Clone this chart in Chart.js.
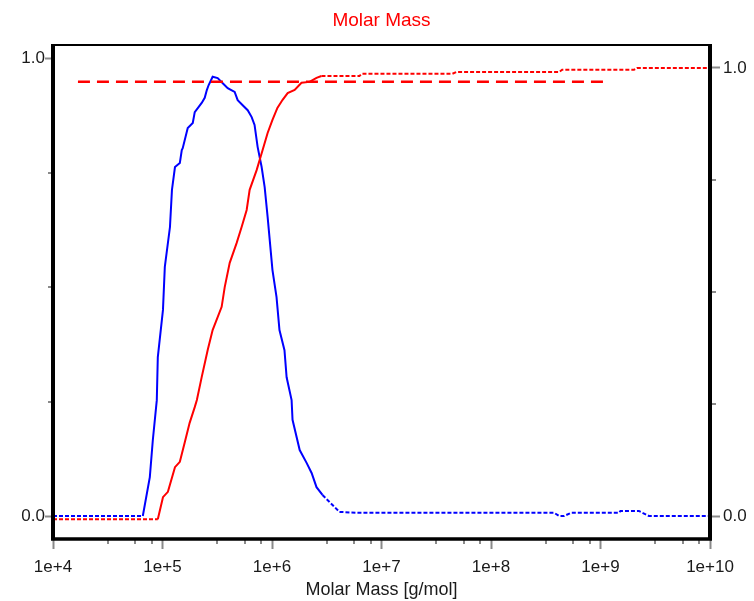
<!DOCTYPE html>
<html>
<head>
<meta charset="utf-8">
<script src="https://cdn.jsdelivr.net/npm/chart.js@4/dist/chart.umd.min.js"></script>
<style>
html,body{margin:0;padding:0;background:#fff;}
#wrap{width:754px;height:601px;position:relative;}
</style>
</head>
<body>
<div id="wrap"><canvas id="c" width="754" height="601"></canvas></div>
<script>
// ---- data ----
const xTickValues = [1e4, 1e5, 1e6, 1e7, 1e8, 1e9, 1e10];
const yTickValues = [0, 1];

// differential distribution (blue, left axis)
const blueMass = [1e4, 6.61e4, 7.66e4, 8.16e4, 8.87e4, 9.06e4, 1.01e5, 1.05e5, 1.17e5, 1.22e5, 1.30e5, 1.44e5, 1.50e5, 1.53e5, 1.70e5, 1.89e5, 1.97e5, 2.28e5, 2.43e5, 2.54e5, 2.64e5, 2.87e5, 3.19e5, 3.55e5, 3.94e5, 4.56e5, 4.86e5, 5.40e5, 6.00e5, 6.52e5, 6.93e5, 7.39e5, 8.04e5, 8.57e5, 9.12e5, 1.01e6, 1.10e6, 1.17e6, 1.30e6, 1.36e6, 1.51e6, 1.54e6, 1.79e6, 2.07e6, 2.30e6, 2.55e6, 2.89e6, 4.13e6, 5.90e6, 3.77e8, 4.19e8, 4.65e8, 5.38e8, 1.47e9, 1.52e9, 2.24e9, 2.77e9, 1e10];
const blueVal = [0, 0, 0.085, 0.166, 0.253, 0.347, 0.450, 0.544, 0.631, 0.712, 0.762, 0.771, 0.799, 0.803, 0.847, 0.858, 0.882, 0.902, 0.913, 0.930, 0.941, 0.959, 0.956, 0.945, 0.934, 0.926, 0.908, 0.897, 0.886, 0.871, 0.854, 0.806, 0.762, 0.718, 0.653, 0.537, 0.478, 0.406, 0.362, 0.303, 0.253, 0.210, 0.144, 0.116, 0.094, 0.063, 0.046, 0.009, 0.007, 0.007, 0.0, 0.0, 0.007, 0.007, 0.011, 0.011, 0.0, 0.0];
const blueMeasured = [6.61e4, 2.89e6];

// cumulative distribution (red, right axis)
const redMass = [1e4, 9.06e4, 1.01e5, 1.12e5, 1.30e5, 1.44e5, 1.60e5, 1.77e5, 1.97e5, 2.06e5, 2.28e5, 2.59e5, 2.87e5, 3.47e5, 3.70e5, 4.11e5, 4.75e5, 5.28e5, 5.87e5, 6.25e5, 7.24e5, 8.21e5, 9.12e5, 1.01e6, 1.12e6, 1.25e6, 1.39e6, 1.61e6, 1.86e6, 2.20e6, 2.55e6, 2.83e6, 6.29e6, 6.56e6, 4.43e7, 4.82e7, 4.19e8, 4.46e8, 2.02e9, 2.15e9, 1e10];
const redVal = [-0.007, -0.007, 0.042, 0.054, 0.109, 0.121, 0.165, 0.208, 0.243, 0.259, 0.310, 0.371, 0.415, 0.467, 0.511, 0.565, 0.609, 0.645, 0.683, 0.728, 0.772, 0.817, 0.855, 0.884, 0.911, 0.929, 0.944, 0.951, 0.967, 0.969, 0.978, 0.982, 0.982, 0.987, 0.987, 0.991, 0.991, 0.996, 0.996, 1.0, 1.0];
const redMeasured = [9.06e4, 2.83e6];

// dashed reference line (left axis)
const refMass = [1.69e4, 1.08e9];
const refVal = [0.948, 0.948];

// ---- chart ----
const FONT = "'Liberation Sans', Arial, sans-serif";
const pts = (xs, ys) => xs.map((x, i) => ({x: x, y: ys[i]}));
const dotted = (range) => (ctx) =>
  (ctx.p0.parsed.x < range[0] || ctx.p1.parsed.x > range[1]) ? [4, 2] : undefined;

const framePlugin = {
  id: 'frame',
  afterDatasetsDraw(chart) {
    const {ctx, chartArea: a, scales} = chart;
    ctx.save();
    // minor ticks
    ctx.strokeStyle = '#8a8a8a';
    ctx.lineWidth = 2;
    for (let d = 4; d < 10; d++) {
      [0.5, 0.75, 0.9].forEach(f => {
        const px = Math.round(scales.x.getPixelForValue(Math.pow(10, d + f)));
        ctx.beginPath(); ctx.moveTo(px, a.bottom); ctx.lineTo(px, a.bottom + 5); ctx.stroke();
      });
    }
    [0.25, 0.5, 0.75].forEach(v => {
      const pl = Math.round(scales.yL.getPixelForValue(v));
      ctx.beginPath(); ctx.moveTo(a.left - 5, pl); ctx.lineTo(a.left, pl); ctx.stroke();
      const pr = Math.round(scales.yR.getPixelForValue(v));
      ctx.beginPath(); ctx.moveTo(a.right, pr); ctx.lineTo(a.right + 6, pr); ctx.stroke();
    });
    // frame
    ctx.strokeStyle = '#000';
    ctx.lineWidth = 2;
    ctx.beginPath(); ctx.moveTo(a.left, a.top); ctx.lineTo(a.right, a.top); ctx.stroke();
    ctx.lineWidth = 4;
    ctx.beginPath(); ctx.moveTo(a.left, a.top - 1); ctx.lineTo(a.left, a.bottom); ctx.stroke();
    ctx.beginPath(); ctx.moveTo(a.right, a.top - 1); ctx.lineTo(a.right, a.bottom); ctx.stroke();
    ctx.lineWidth = 3.5;
    ctx.beginPath(); ctx.moveTo(a.left - 2, a.bottom); ctx.lineTo(a.right + 2, a.bottom); ctx.stroke();
    ctx.restore();
  }
};

new Chart(document.getElementById('c'), {
  type: 'line',
  data: {
    datasets: [
      {
        label: 'ref', data: pts(refMass, refVal), yAxisID: 'yL',
        borderColor: '#ff0000', borderWidth: 2.5, borderDash: [12, 7],
        pointRadius: 0, fill: false
      },
      {
        label: 'cumulative', data: pts(redMass, redVal), yAxisID: 'yR',
        borderColor: '#ff0000', borderWidth: 2, pointRadius: 0, fill: false,
        segment: { borderDash: dotted(redMeasured) }
      },
      {
        label: 'differential', data: pts(blueMass, blueVal), yAxisID: 'yL',
        borderColor: '#0000ff', borderWidth: 2, pointRadius: 0, fill: false,
        segment: { borderDash: dotted(blueMeasured) }
      }
    ]
  },
  options: {
    responsive: false,
    animation: false,
    events: [],
    layout: { padding: 0 },
    plugins: {
      legend: { display: false },
      tooltip: { enabled: false },
      title: {
        display: true, text: 'Molar Mass', color: '#ff0000', fullSize: false,
        font: { family: FONT, size: 19, weight: 'normal' },
        padding: { top: 9, bottom: 13.2 }
      }
    },
    scales: {
      x: {
        type: 'logarithmic', position: 'bottom', min: 1e4, max: 1e10,
        afterBuildTicks: s => { s.ticks = xTickValues.map(v => ({value: v})); },
        afterFit: s => { s.height = 62; },
        ticks: {
          autoSkip: false, maxRotation: 0, padding: 8, color: '#1a1a1a',
          font: { family: FONT, size: 17 },
          callback: v => '1e+' + Math.round(Math.log10(v))
        },
        grid: { drawOnChartArea: false, tickLength: 10, tickColor: '#8a8a8a', tickWidth: 2 },
        border: { display: false },
        title: {
          display: true, text: 'Molar Mass [g/mol]', color: '#1a1a1a',
          font: { family: FONT, size: 18 }, padding: { top: 0, bottom: 0 }
        }
      },
      yL: {
        type: 'linear', position: 'left', min: -0.0502, max: 1.0284,
        afterBuildTicks: s => { s.ticks = yTickValues.map(v => ({value: v})); },
        afterFit: s => { s.width = 53; },
        ticks: { padding: 0, color: '#1a1a1a', font: { family: FONT, size: 17 }, callback: v => v.toFixed(1) },
        grid: { drawOnChartArea: false, tickLength: 8, tickColor: '#8a8a8a', tickWidth: 2 },
        border: { display: false }
      },
      yR: {
        type: 'linear', position: 'right', min: -0.0513, max: 1.0513,
        afterBuildTicks: s => { s.ticks = yTickValues.map(v => ({value: v})); },
        afterFit: s => { s.width = 44; },
        ticks: { padding: 3, color: '#1a1a1a', font: { family: FONT, size: 17 }, callback: v => v.toFixed(1) },
        grid: { drawOnChartArea: false, tickLength: 10, tickColor: '#8a8a8a', tickWidth: 2 },
        border: { display: false }
      }
    }
  },
  plugins: [framePlugin]
});
</script>
</body>
</html>
